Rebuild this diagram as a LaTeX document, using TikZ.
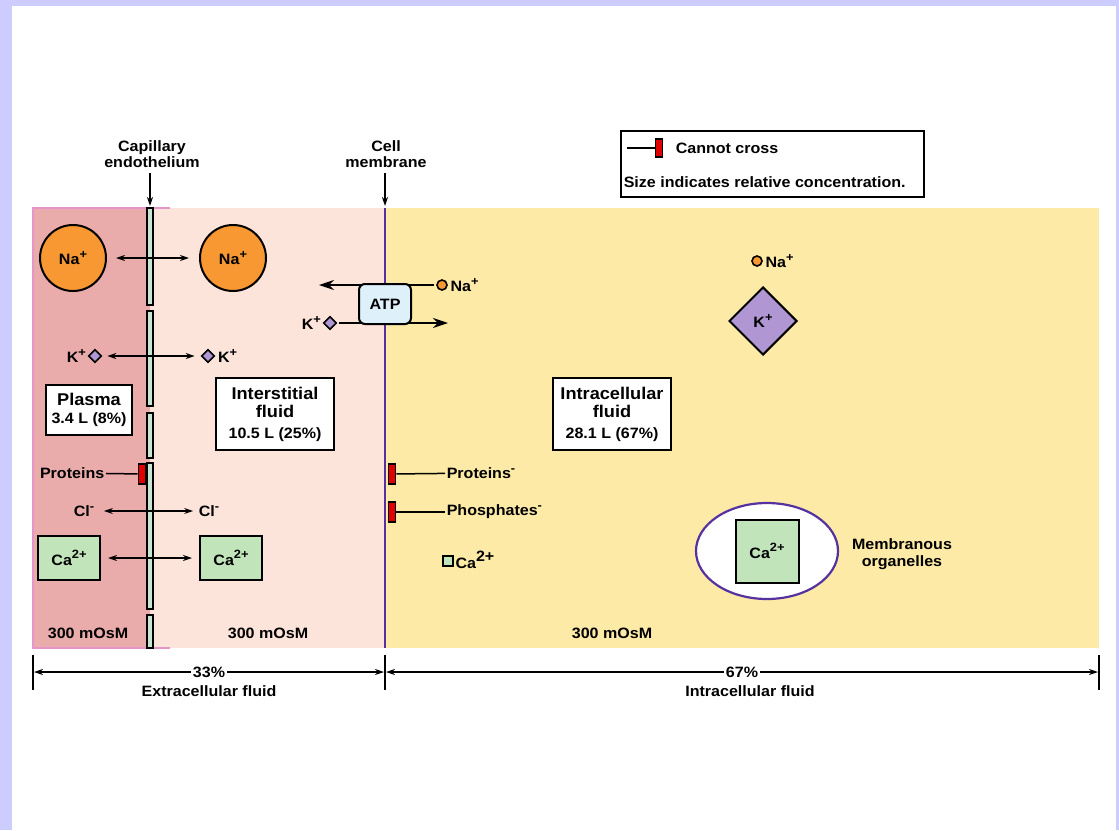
\documentclass[tikz,border=0pt]{standalone}
\usepackage{fontspec}
\setmainfont{Liberation Sans}[FakeStretch=1.07]
\usetikzlibrary{arrows.meta,shapes.geometric,positioning}

\definecolor{lavender}{RGB}{204,204,255}
\definecolor{plasmacol}{RGB}{233,172,170}
\definecolor{intercol}{RGB}{252,228,218}
\definecolor{intracol}{RGB}{253,234,166}
\definecolor{naorange}{RGB}{247,152,50}
\definecolor{klilac}{RGB}{176,150,210}
\definecolor{cagreen}{RGB}{194,228,186}
\definecolor{barfill}{RGB}{200,228,210}
\definecolor{atpblue}{RGB}{222,240,250}
\definecolor{membcol}{RGB}{85,50,160}
\definecolor{edgepink}{RGB}{228,150,200}
\definecolor{stopred}{RGB}{225,0,0}

\newcommand{\ionsup}[1]{\raisebox{0.42em}{\fontsize{12}{12}\selectfont #1}}

\begin{document}
\begin{tikzpicture}[x=1pt, y=-1pt, >={Stealth[length=9pt,width=6pt]}, line width=1.5pt,
  every node/.style={font=\fontsize{15}{16.5}\selectfont\bfseries},
  lbl/.style={inner sep=1pt},
  nabig/.style={circle, draw, fill=naorange, line width=2pt, minimum size=66pt, inner sep=0pt},
  nadot/.style={circle, draw, fill=naorange, line width=1.6pt, minimum size=10pt, inner sep=0pt},
  kdot/.style={diamond, draw, fill=klilac, line width=1.6pt, minimum size=13pt, inner sep=0pt},
  kbig/.style={diamond, draw, fill=klilac, line width=2pt, minimum size=68pt, inner sep=0pt},
  cabox/.style={rectangle, draw, fill=cagreen, line width=2pt, minimum width=62pt, minimum height=44pt, inner sep=0pt},
  cadot/.style={rectangle, draw, fill=cagreen, line width=1.6pt, minimum size=10pt, inner sep=0pt},
  stopbar/.style={rectangle, draw, fill=stopred, line width=1.6pt, minimum width=7pt, minimum height=20pt, inner sep=0pt},
  fluidbox/.style={rectangle, draw, fill=white, line width=2pt, align=center, inner sep=3pt},
  bar/.style={draw, fill=barfill, line width=1.6pt}]

% frame
\fill[lavender] (0,0) rectangle (1119,830);
\fill[white] (12,6) rectangle (1116,830);
\useasboundingbox (0,0) rectangle (1119,830);

% compartments
\fill[plasmacol] (33,208) rectangle (150,648);
\fill[intercol] (150,208) rectangle (385,648);
\fill[intracol] (385,208) rectangle (1099,648);
\draw[edgepink, line width=1.2pt] (170,208) -- (33,208) -- (33,648) -- (170,648);

% capillary endothelium
\foreach \a/\b in {208/305, 311/406, 413/458, 463/609, 615/648}
  \draw[bar] (147,\a) rectangle (153,\b);
% cell membrane
\draw[membcol, line width=2pt] (385,208) -- (385,648);

% top labels
\node[lbl, align=center] (capLbl) at (152,154) {Capillary\\endothelium};
\coordinate (capTop) at (150,206);
\draw[->, shorten <=3pt] (capLbl.south -| capTop) -- (capTop);
\node[lbl, align=center] (memLbl) at (386,154) {Cell\\membrane};
\coordinate (memTop) at (385,206);
\draw[->, shorten <=3pt] (memLbl.south -| memTop) -- (memTop);

% legend
\node[draw, line width=2pt, minimum width=303pt, minimum height=66pt, anchor=north west] (legend) at (620,130) {};
\node[stopbar, minimum height=18pt] (legStop) at (659,148) {};
\coordinate (legEnd) at (627,148);
\draw (legEnd) -- (legStop);
\node[lbl, anchor=west] (legTxt) at (674,148) {Cannot cross};
\node[lbl, anchor=west] (legSize) at (622,182) {Size indicates relative concentration.};

% Na+
\node[nabig] (naP) at (73,258) {Na\ionsup{+}};
\node[nabig] (naI) at (233,258) {Na\ionsup{+}};
\draw[<->, shorten <=9pt, shorten >=10pt] (naP) -- (naI);

% K+
\node[kdot] (kP) at (95,356) {};
\node[lbl, left=0pt of kP] (kPtxt) {K\ionsup{+}};
\node[kdot] (kI) at (208,356) {};
\node[lbl, right=1pt of kI] (kItxt) {K\ionsup{+}};
\draw[<->, shorten <=5pt, shorten >=6pt] (kP) -- (kI);

% volume boxes
\node[fluidbox, minimum width=86pt, minimum height=50pt] (plasma) at (89,410)
  {{\fontsize{17}{18}\selectfont Plasma}\\[1pt]3.4 L (8\%)};
\node[fluidbox, minimum width=118pt, minimum height=72pt] (inter) at (275,414)
  {{\fontsize{17}{18}\selectfont Interstitial}\\[2pt]{\fontsize{17}{18}\selectfont fluid}\\[4pt]10.5 L (25\%)};
\node[fluidbox, minimum width=118pt, minimum height=72pt] (intra) at (612,414)
  {{\fontsize{17}{18}\selectfont Intracellular}\\[2pt]{\fontsize{17}{18}\selectfont fluid}\\[4pt]28.1 L (67\%)};

% proteins
\node[lbl, anchor=east] (protP) at (106,473) {Proteins};
\node[stopbar] (stopP) at (142,474) {};
\draw (protP) -- (stopP);
\node[stopbar] (stopC1) at (392,474) {};
\node[lbl, anchor=west] (protC) at (445,473) {Proteins\ionsup{-}};
\draw (stopC1) -- (protC);
\node[stopbar] (stopC2) at (392,512) {};
\node[lbl, anchor=west] (phosC) at (445,512) {Phosphates\ionsup{-}};
\draw (stopC2) -- (phosC);

% Cl-
\node[lbl] (clP) at (84,511) {Cl\ionsup{-}};
\node[lbl] (clI) at (209,511) {Cl\ionsup{-}};
\draw[<->, shorten <=8pt, shorten >=4pt] (clP) -- (clI);

% Ca2+
\node[cabox] (caP) at (69,558) {Ca\ionsup{2+}};
\node[cabox] (caI) at (231,558) {Ca\ionsup{2+}};
\draw[<->, shorten <=7pt, shorten >=7pt] (caP) -- (caI);

% osmolarity
\node[lbl] (osP) at (88,633) {300 mOsM};
\node[lbl] (osI) at (268,633) {300 mOsM};
\node[lbl] (osC) at (612,633) {300 mOsM};

% Na/K pump
\node[nadot] (naS) at (442,285) {};
\node[lbl, right=1pt of naS] (naStxt) {Na\ionsup{+}};
\coordinate (naOut) at (319,285);
\draw[->, >={Stealth[length=15pt,width=10pt]}, shorten <=2pt] (naS) -- (naOut);
\node[kdot] (kS) at (330,323) {};
\node[lbl, left=0pt of kS] (kStxt) {K\ionsup{+}};
\coordinate (kIn) at (448,323);
\draw[->, >={Stealth[length=15pt,width=10pt]}, shorten <=2pt] (kS) -- (kIn);
\node[rectangle, draw, fill=atpblue, rounded corners=6pt, line width=2pt, minimum width=52pt, minimum height=40pt] (atp) at (385,304) {ATP};

% intracellular ions
\node[nadot] (naC) at (757,261) {};
\node[lbl, right=1pt of naC] (naCtxt) {Na\ionsup{+}};
\node[kbig] (kC) at (763,321) {K\ionsup{+}};
\node[cadot] (caS) at (448,561) {};
\node[lbl, right=0pt of caS, yshift=1pt] (caStxt) {Ca\raisebox{0.5em}{\fontsize{15}{15}\selectfont 2+}};

% organelle
\node[ellipse, draw=membcol, fill=white, line width=2.2pt, minimum width=142pt, minimum height=96pt] (org) at (767,551) {};
\node[cabox, minimum size=63pt] (caC) at (767,551) {Ca\ionsup{2+}};
\node[lbl, align=center] (orgTxt) at (902,554) {Membranous\\organelles};

% dimension lines
\coordinate (eL) at (33,672);
\coordinate (eM) at (385,672);
\coordinate (eR) at (1099,672);
\foreach \p in {eL,eM,eR}
  \draw[line width=2pt] (\p) ++(0,-17) -- ++(0,35);
\draw[<->, shorten <=1pt, shorten >=1pt] (eL) -- node[fill=white, inner sep=2pt] (ecf) {33\%} (eM);
\draw[<->, shorten <=1pt, shorten >=1pt] (eM) -- node[fill=white, inner sep=2pt, pos=0.5] (icf) {67\%} (eR);
\node[lbl, below=4pt of ecf] (ecfTxt) {Extracellular fluid};
\node[lbl, below=4pt of icf, xshift=8pt] (icfTxt) {Intracellular fluid};
\end{tikzpicture}
\end{document}
